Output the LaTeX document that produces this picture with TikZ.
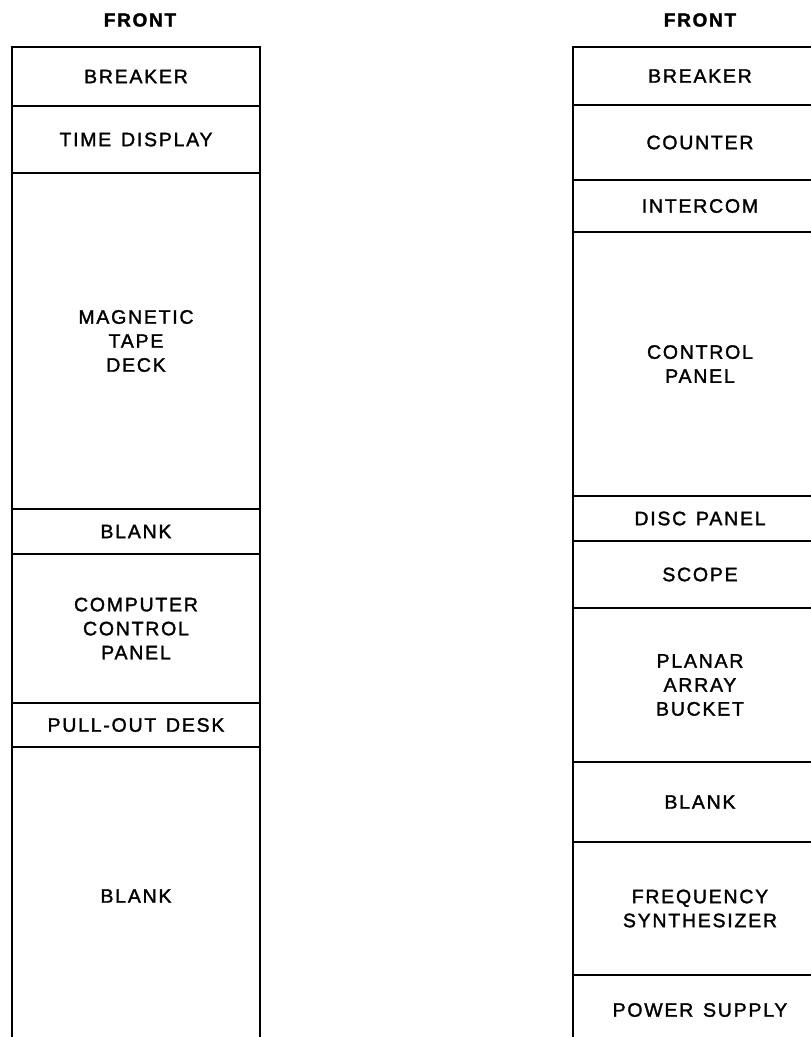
\documentclass[tikz,border=0pt]{standalone}
\usepackage{fontspec}
\setmainfont{Liberation Sans}
\newfontfamily\rackfont[LetterSpace=9,FakeBold=1.6]{Liberation Sans}
\usepackage{tikz}
\newcommand{\lbl}[1]{{\rackfont\fontsize{19.5}{24}\selectfont\spaceskip=0.5em #1}}

\begin{document}
\begin{tikzpicture}[x=1pt, y=-1pt]
    \tikzset{
        unit/.style={
            draw, line width=2pt, inner sep=0pt,
            align=center, font=\rackfont\fontsize{19.5}{24}\selectfont
        },
        lunit/.style={unit, minimum width=248pt},
        runit/.style={unit, minimum width=254pt},
        head/.style={font=\rackfont\bfseries\fontsize{19}{20}\selectfont}
    }
    \useasboundingbox (0,0) rectangle (811,1037);

    % ==== Left rack ====
    \node[head] (lfront) at (140,20) {FRONT};
    \node[lunit, minimum height=59pt] (l1) at (136,76.5) {\lbl{BREAKER}};
    \node[lunit, minimum height=67pt] (l2) at (136,139.5) {\lbl{TIME DISPLAY}};
    \node[lunit, minimum height=336pt] (l3) at (136,341) {\lbl{MAGNETIC}\\\lbl{TAPE}\\\lbl{DECK}};
    \node[lunit, minimum height=45pt] (l4) at (136,531.5) {\lbl{BLANK}};
    \node[lunit, minimum height=149pt] (l5) at (136,628.5) {\lbl{COMPUTER}\\\lbl{CONTROL}\\\lbl{PANEL}};
    \node[lunit, minimum height=44pt] (l6) at (136,725) {\lbl{PULL-OUT DESK}};
    \node[lunit, minimum height=298pt] (l7) at (136,896) {\lbl{BLANK}};

    % ==== Right rack ====
    \node[head] (rfront) at (700,20) {FRONT};
    \node[runit, minimum height=58pt] (r1) at (700,76) {\lbl{BREAKER}};
    \node[runit, minimum height=75pt] (r2) at (700,142.5) {\lbl{COUNTER}};
    \node[runit, minimum height=52pt] (r3) at (700,206) {\lbl{INTERCOM}};
    \node[runit, minimum height=264pt] (r4) at (700,364) {\lbl{CONTROL}\\\lbl{PANEL}};
    \node[runit, minimum height=45pt] (r5) at (700,518.5) {\lbl{DISC PANEL}};
    \node[runit, minimum height=67pt] (r6) at (700,574.5) {\lbl{SCOPE}};
    \node[runit, minimum height=154pt] (r7) at (700,685) {\lbl{PLANAR}\\\lbl{ARRAY}\\\lbl{BUCKET}};
    \node[runit, minimum height=80pt] (r8) at (700,802) {\lbl{BLANK}};
    \node[runit, minimum height=133pt] (r9) at (700,908.5) {\lbl{FREQUENCY}\\\lbl{SYNTHESIZER}};
    \node[runit, minimum height=70pt] (r10) at (700,1010) {\lbl{POWER SUPPLY}};

\end{tikzpicture}
\end{document}
